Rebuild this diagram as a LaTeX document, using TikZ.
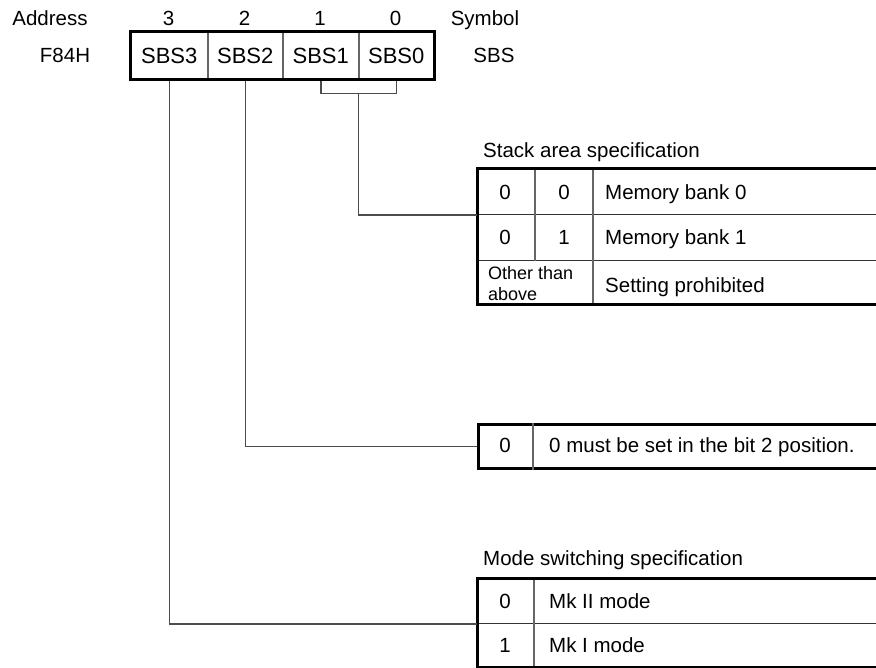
\documentclass[tikz,border=0pt]{standalone}
\usepackage{fontspec}
\setmainfont{Liberation Sans}
\usetikzlibrary{calc}
\begin{document}
\begin{tikzpicture}[x=1pt,y=-1pt]
\tikzset{
 base/.style={font=\fontsize{20.5}{24}\selectfont, inner sep=0pt, text height=14.7pt, text depth=0pt},
 lbl/.style={base},
 lblw/.style={base, anchor=west},
 cellbox/.style={base, font=\fontsize{22}{26}\selectfont, text height=15.8pt, draw=black!60, line width=1.5pt, anchor=north west, minimum height=46pt},
 rowbox/.style={draw=black!80, line width=1.2pt, anchor=north west, minimum width=430pt, inner sep=0pt},
 outer/.style={draw=black, line width=3pt},
 conn/.style={draw=black!70, line width=1.5pt},
 div/.style={draw=black!60, line width=1.5pt},
 smalltxt/.style={font=\fontsize{18}{21}\selectfont, inner sep=0pt, align=left, anchor=north west},
}
\useasboundingbox (0,0) rectangle (876,668);
\clip (0,0) rectangle (876,668);

% register cells
\node[cellbox, minimum width=77pt] (c3) at (130,32) {SBS3};
\node[cellbox, minimum width=75pt] (c2) at (207,32) {SBS2};
\node[cellbox, minimum width=76pt] (c1) at (282,32) {SBS1};
\node[cellbox, minimum width=75pt] (c0) at (358,32) {SBS0};

% header labels
\node[lbl] (addr) at (50,18) {Address};
\node[lbl] (h3) at (168.5,18) {3};
\node[lbl] (h2) at (244.5,18) {2};
\node[lbl] (h1) at (320,18) {1};
\node[lbl] (h0) at (395.5,18) {0};
\node[lbl] (sym) at (485,18) {Symbol};
\node[lbl] (f84) at (65,55) {F84H};
\node[lbl] (sbs) at (494,55) {SBS};

% stack area table
\node[lblw] (stt) at (483,150) {Stack area specification};
\node[rowbox, minimum height=45pt] (s1) at (477,169) {};
\node[rowbox, minimum height=46pt] (s2) at (477,214) {};
\node[rowbox, minimum height=43pt] (s3) at (477,260) {};
\draw[div] (s1.north west -| 535,0) -- (s2.south west -| 535,0);
\draw[div] (s1.north west -| 593,0) -- (s3.south west -| 593,0);
\draw[outer] (s1.north west) rectangle (s3.south east);
\node[lbl] (s1a) at (505,192) {0};
\node[lbl] (s1b) at (564,192) {0};
\node[lblw] (s1c) at (605,192) {Memory bank 0};
\node[lbl] (s2a) at (505,237) {0};
\node[lbl] (s2b) at (564,237) {1};
\node[lblw] (s2c) at (605,237) {Memory bank 1};
\node[smalltxt] (s3a) at (488,266.5) {Other than\\above};
\node[lblw] (s3c) at (605,285) {Setting prohibited};

% bit 2 table
\node[outer, anchor=north west, minimum width=430pt, minimum height=44pt, inner sep=0pt] (mid) at (477,423) {};
\draw[div] (mid.north west -| 533,0) -- (mid.south west -| 533,0);
\node[lbl] (ma) at (505,445) {0};
\node[lblw] (mb) at (549,445) {0 must be set in the bit 2 position.};

% mode switching table
\node[lblw] (mst) at (483,558) {Mode switching specification};
\node[rowbox, minimum height=45pt] (m0) at (477,578) {};
\node[rowbox, minimum height=43pt] (m1) at (477,623) {};
\draw[div] (m0.north west -| 534,0) -- (m1.south west -| 534,0);
\draw[outer] (m0.north west) rectangle (m1.south east);
\node[lbl] (m0a) at (505,601) {0};
\node[lblw] (m0b) at (549,601) {Mk II mode};
\node[lbl] (m1a) at (505,645) {1};
\node[lblw] (m1b) at (549,645) {Mk I mode};

% connectors
\draw[conn] (c1.south) -- ++(0,14) -| (c0.south);
\coordinate (brk) at ($(c1.south)!0.5!(c0.south)+(0,14)$);
\draw[conn] (brk) |- (s1.south west);
\draw[conn] (c2.south) |- (mid.west);
\draw[conn] (c3.south) |- (m0.south west);

% register outline on top
\draw[outer] (c3.north west) rectangle (c0.south east);
\end{tikzpicture}
\end{document}
